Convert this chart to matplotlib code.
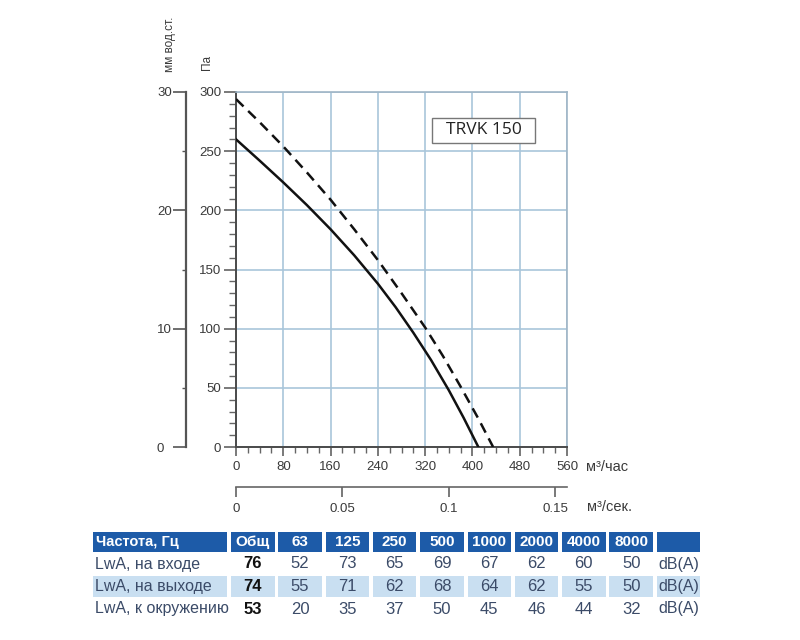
import matplotlib
matplotlib.use("Agg")
import matplotlib.pyplot as plt
from matplotlib.patches import Rectangle
from matplotlib.ticker import MultipleLocator, FixedLocator

# ---------------- data ----------------
flow_solid = [0, 40, 80, 120, 160, 200, 240, 270, 300, 330, 360, 385, 410]
pa_solid = [260, 242, 223.6, 204.4, 184, 162, 138, 118.2, 96.6, 73.5, 48, 24.8, 0]

flow_dash = [0, 40, 80, 120, 160, 200, 240, 280, 320, 350, 380, 410, 435]
pa_dash = [294, 274.5, 254, 232, 209, 184, 158, 130, 101, 77, 51, 24, 0]

x_ticks_h = [0, 80, 160, 240, 320, 400, 480, 560]
y_ticks_pa = [0, 50, 100, 150, 200, 250, 300]
y_ticks_mm = [0, 10, 20, 30]
x_ticks_s = [0, 0.05, 0.1, 0.15]
x_ticklabels_s = ["0", "0.05", "0.1", "0.15"]

model_label = "TRVK 150"

table_header = ["Частота, Гц", "Общ", "63", "125", "250", "500", "1000", "2000", "4000", "8000", ""]
row_labels = ["LwA, на входе", "LwA, на выходе", "LwA, к окружению"]
row_total = [76, 74, 53]
row_values = [
    [52, 73, 65, 69, 67, 62, 60, 50],
    [55, 71, 62, 68, 64, 62, 55, 50],
    [20, 35, 37, 50, 45, 46, 44, 32],
]
unit_db = "dB(A)"

# ---------------- style ----------------
TICK_FONT = ["Liberation Sans", "DejaVu Sans"]
TABLE_FONT = ["Liberation Sans", "DejaVu Sans"]
GRID_C = "#a9c6da"
TXT_C = "#3a3a3a"

W, H = 800, 640
fig = plt.figure(figsize=(8, 6.4), dpi=100)

def fx(px):
    return px / W

def fy(py):
    return 1 - py / H

ax_l, ax_r, ax_t, ax_b = 236, 567, 92, 447
ax = fig.add_axes([fx(ax_l), fy(ax_b), (ax_r - ax_l) / W, (ax_b - ax_t) / H])
ax.set_xlim(0, 560)
ax.set_ylim(0, 300)

ax.plot(flow_solid, pa_solid, color="#111111", lw=1.8, solid_joinstyle="round", zorder=5)
ax.plot(flow_dash, pa_dash, color="#111111", lw=1.8, dashes=(4.2, 2.6), zorder=5)

ax.set_xticks(x_ticks_h)
ax.set_yticks(y_ticks_pa)
ax.xaxis.set_minor_locator(MultipleLocator(20))
ax.yaxis.set_minor_locator(MultipleLocator(10))
ax.grid(True, which="major", color=GRID_C, lw=1.2, zorder=0)
ax.set_axisbelow(True)

for s in ("top", "right"):
    ax.spines[s].set_color("#9fb5c6")
    ax.spines[s].set_linewidth(1.2)
for s in ("left", "bottom"):
    ax.spines[s].set_color("#4a4a4a")
    ax.spines[s].set_linewidth(1.4)

ax.tick_params(axis="y", which="major", length=8.6, width=1.1, color="#555555",
               pad=2, labelsize=9.5, labelcolor=TXT_C)
ax.tick_params(axis="y", which="minor", length=5.4, width=1.0, color="#666666")
ax.tick_params(axis="x", which="major", length=6.5, width=1.1, color="#555555",
               pad=3.5, labelsize=9.5, labelcolor=TXT_C)
ax.tick_params(axis="x", which="minor", length=4.3, width=1.0, color="#666666")
for lab in ax.get_xticklabels() + ax.get_yticklabels():
    lab.set_family(TICK_FONT)

# model label box
bx0, bx1, by0, by1 = 432, 535, 118, 143
ax.add_patch(Rectangle(((bx0 - ax_l) / (ax_r - ax_l), (ax_b - by1) / (ax_b - ax_t)),
                       (bx1 - bx0) / (ax_r - ax_l), (by1 - by0) / (ax_b - ax_t),
                       transform=ax.transAxes, facecolor="white", edgecolor="#777777",
                       lw=1.0, zorder=6))
ax.text(((bx0 + bx1) / 2 - ax_l) / (ax_r - ax_l), (ax_b - (by0 + by1) / 2) / (ax_b - ax_t),
        model_label, transform=ax.transAxes, ha="center", va="center",
        fontsize=12.5, family=["Open Sans", "DejaVu Sans"], color="#222222", zorder=7)

# secondary y axis (mm water column)
mm_x = 186
sec_y = ax.secondary_yaxis((mm_x - ax_l) / (ax_r - ax_l),
                           functions=(lambda p: p / 10.0, lambda m: m * 10.0))
sec_y.set_yticks(y_ticks_mm)
sec_y.yaxis.set_minor_locator(FixedLocator([5, 15, 25]))
sec_y.spines["left"].set_color("#555555")
sec_y.spines["left"].set_linewidth(1.6)
sec_y.tick_params(which="major", length=9.4, width=1.2, color="#555555", pad=11.5,
                  labelsize=9.5, labelcolor=TXT_C)
sec_y.tick_params(which="minor", length=2.8, width=1.0, color="#555555")
for lab in sec_y.get_yticklabels():
    lab.set_horizontalalignment("left")
    lab.set_family(TICK_FONT)

# secondary x axis (m3/s)
s_y = 487
sec_x = ax.secondary_xaxis(-(s_y - ax_b) / (ax_b - ax_t),
                           functions=(lambda q: q / 3600.0, lambda s: s * 3600.0))
sec_x.set_xticks(x_ticks_s)
sec_x.set_xticklabels(x_ticklabels_s)
sec_x.spines["bottom"].set_color("#666666")
sec_x.spines["bottom"].set_linewidth(1.2)
sec_x.tick_params(which="major", length=7.2, width=1.1, color="#555555", pad=4.2,
                  labelsize=9.5, labelcolor=TXT_C)
for lab in sec_x.get_xticklabels():
    lab.set_family(TICK_FONT)

# axis unit labels
fig.text(fx(170), fy(44), "мм вод.ст.", rotation=90, ha="center", va="center",
         fontsize=8.5, color=TXT_C, family=TABLE_FONT)
fig.text(fx(207), fy(63), "Па", rotation=90, ha="center", va="center",
         fontsize=8.5, color=TXT_C, family=TABLE_FONT)
fig.text(fx(586), fy(467), "м³/час", ha="left", va="center",
         fontsize=10.5, color=TXT_C, family=TABLE_FONT)
fig.text(fx(587), fy(507), "м³/сек.", ha="left", va="center",
         fontsize=10.5, color=TXT_C, family=TABLE_FONT)

# ---------------- table ----------------
tax = fig.add_axes([0, 0, 1, 1], zorder=-1)
tax.set_xlim(0, W)
tax.set_ylim(H, 0)
tax.axis("off")

HEAD_C = "#1d5ba8"
LIGHT_C = "#c9dff1"
ROW_TXT = "#3b4b68"

first_x, first_w = 93, 134
col_start, col_step, col_w = 231, 47.3, 43.5
col_x = [first_x] + [col_start + i * col_step for i in range(len(table_header) - 1)]
col_wd = [first_w] + [col_w] * (len(table_header) - 1)

row_top = [532, 553, 576, 598]
row_h = [20, 22, 21, 22]

# header
for j, txt in enumerate(table_header):
    tax.add_patch(Rectangle((col_x[j], row_top[0]), col_wd[j], row_h[0],
                            facecolor=HEAD_C, edgecolor="none"))
    cy = row_top[0] + row_h[0] / 2
    if j == 0:
        tax.text(col_x[j] + 3, cy, txt, ha="left", va="center", color="white",
                 fontsize=10.5, fontweight="bold", family=TABLE_FONT)
    else:
        tax.text(col_x[j] + col_wd[j] / 2, cy, txt, ha="center", va="center",
                 color="white", fontsize=11, fontweight="bold", family=TABLE_FONT)

for i, lbl in enumerate(row_labels):
    r = i + 1
    cy = row_top[r] + row_h[r] / 2
    if r == 2:
        for j in range(len(table_header)):
            tax.add_patch(Rectangle((col_x[j], row_top[r]), col_wd[j], row_h[r],
                                    facecolor=LIGHT_C, edgecolor="none"))
    tax.text(col_x[0] + 2, cy, lbl, ha="left", va="center", color=ROW_TXT,
             fontsize=11.5, family=TABLE_FONT)
    tax.text(col_x[1] + col_wd[1] / 2, cy, str(row_total[i]), ha="center", va="center",
             color="#111111", fontsize=12, fontweight="bold", family=TABLE_FONT)
    for k, v in enumerate(row_values[i]):
        j = k + 2
        tax.text(col_x[j] + col_wd[j] / 2, cy, str(v), ha="center", va="center",
                 color=ROW_TXT, fontsize=12, family=TABLE_FONT)
    j = len(table_header) - 1
    tax.text(col_x[j] + col_wd[j] / 2, cy, unit_db, ha="center", va="center",
             color=ROW_TXT, fontsize=11.5, family=TABLE_FONT)

fig.savefig("out.png", dpi=100)
